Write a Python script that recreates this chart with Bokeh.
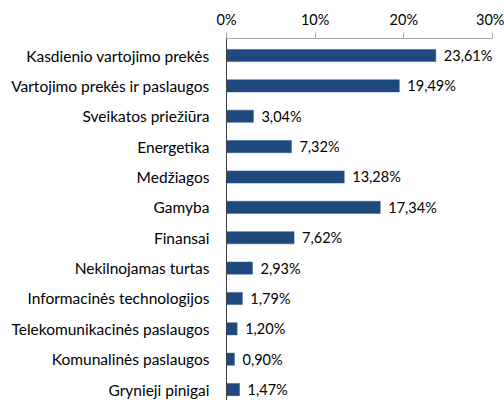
from bokeh.plotting import figure
from bokeh.models import Range1d, LinearAxis, FixedTicker, ColumnDataSource
from bokeh.core.properties import value
from bokeh.embed import file_html
from bokeh.resources import INLINE

categories = ["Kasdienio vartojimo prekės", "Vartojimo prekės ir paslaugos",
              "Sveikatos priežiūra", "Energetika", "Medžiagos", "Gamyba",
              "Finansai", "Nekilnojamas turtas", "Informacinės technologijos",
              "Telekomunikacinės paslaugos", "Komunalinės paslaugos", "Grynieji pinigai"]
shares = [23.61, 19.49, 3.04, 7.32, 13.28, 17.34, 7.62, 2.93, 1.79, 1.20, 0.90, 1.47]
x_ticks = [0, 10, 20, 30]
x_tick_labels = ["0%", "10%", "20%", "30%"]

FONT = "Lato"
pos = list(range(len(categories)))
src = ColumnDataSource(dict(
    y=pos, v=shares,
    lab=[f"{v:.2f}".replace(".", ",") + "%" for v in shares],
))

p = figure(width=504, height=400, output_backend="svg", toolbar_location=None,
           x_range=Range1d(0, 30), y_range=Range1d(11.36, -0.56),
           x_axis_location=None, y_axis_location=None,
           min_border_left=226, min_border_right=12, min_border_top=38,
           min_border_bottom=0)
p.outline_line_color = None
p.grid.visible = False
p.background_fill_color = "white"

p.hbar(y="y", right="v", left=0, height=0.4, source=src,
       fill_color="#1F497D", line_color="#2A5A92", line_width=0.5)
p.text(x="v", y="y", text="lab", source=src, x_offset=8,
       text_font=value(FONT), text_font_size="14.5px", text_color="#000000",
       text_align="left", text_baseline="middle")

xa = LinearAxis(ticker=FixedTicker(ticks=x_ticks),
                major_label_overrides={t: l for t, l in zip(x_ticks, x_tick_labels)})
xa.axis_line_color = "#A6A6A6"
xa.major_tick_line_color = "#A6A6A6"
xa.major_tick_out = 6
xa.major_tick_in = 0
xa.minor_tick_line_color = None
xa.major_label_standoff = 5
xa.major_label_text_font = FONT
xa.major_label_text_font_size = "14.5px"
xa.major_label_text_color = "#000000"
p.add_layout(xa, "above")

ya = LinearAxis(ticker=FixedTicker(ticks=pos),
                major_label_overrides={i: c for i, c in zip(pos, categories)})
ya.axis_line_color = "#404040"
ya.major_tick_line_color = None
ya.major_tick_out = 0
ya.major_tick_in = 0
ya.minor_tick_line_color = None
ya.major_label_standoff = 17
ya.major_label_text_font = FONT
ya.major_label_text_font_size = "15.5px"
ya.major_label_text_color = "#000000"
p.add_layout(ya, "left")

open("out.html", "w").write(file_html(p, INLINE))
